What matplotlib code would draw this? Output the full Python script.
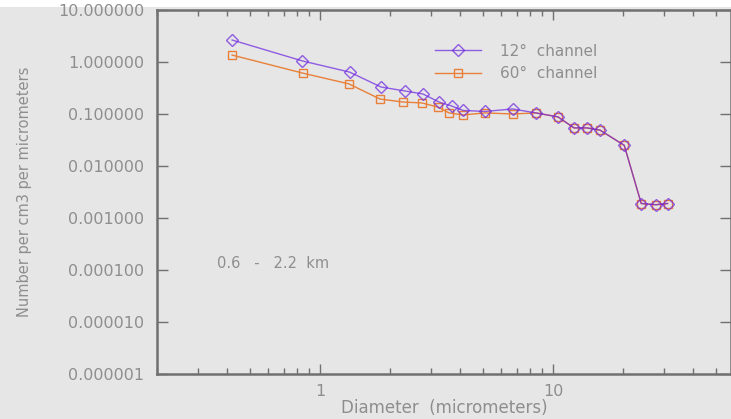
import matplotlib
matplotlib.use('Agg')
import matplotlib.pyplot as plt
from matplotlib.ticker import FormatStrFormatter, NullFormatter, LogLocator

# diameter (micrometers)
diam_12 = [0.42, 0.84, 1.34, 1.83, 2.32, 2.77, 3.24, 3.68, 4.11, 5.11, 6.71, 8.43,
           10.5, 12.3, 14.0, 15.9, 20.2, 23.9, 27.6, 31.0]
conc_12 = [2.65, 1.05, 0.64, 0.33, 0.277, 0.242, 0.170, 0.142, 0.117, 0.112, 0.125, 0.105,
           0.088, 0.054, 0.054, 0.049, 0.025, 0.0019, 0.0018, 0.0019]

diam_60 = [0.42, 0.845, 1.33, 1.81, 2.27, 2.74, 3.21, 3.58, 4.11, 5.11, 6.71, 8.43,
           10.5, 12.3, 14.0, 15.9, 20.2, 23.9, 27.6, 31.0]
conc_60 = [1.36, 0.61, 0.38, 0.194, 0.170, 0.163, 0.136, 0.105, 0.096, 0.105, 0.100, 0.105,
           0.088, 0.054, 0.054, 0.049, 0.025, 0.0019, 0.0018, 0.0019]

labels = ["12\u00b0  channel", "60\u00b0  channel"]
alt_text = "0.6   -   2.2  km"
x_ticks = [1, 10]
y_ticks = [1e-6, 1e-5, 1e-4, 1e-3, 1e-2, 1e-1, 1, 10]

bg = '#e6e6e6'
grey = '#8e8e8e'
axcol = '#707070'

fig = plt.figure(figsize=(7.31, 4.19), dpi=100, facecolor=bg)
# white strip at the top of the scan
fig.patches.append(plt.Rectangle((0, 1 - 7 / 419), 1, 7 / 419, transform=fig.transFigure,
                                 facecolor='white', edgecolor='none', zorder=-1))
ax = fig.add_axes([157 / 731, 1 - 374 / 419, 1 - 157 / 731, 364 / 419])
ax.set_facecolor(bg)

ax.plot(diam_60, conc_60, color='#e8803a', lw=1, marker='s', ms=6, mfc='none',
        mec='#e8803a', mew=1, label=labels[1])
ax.plot(diam_12, conc_12, color='#6a22e0', lw=1, marker='D', ms=6, mfc='none',
        mec='#6a22e0', mew=1, alpha=0.7, label=labels[0])

ax.set_xscale('log')
ax.set_yscale('log')
ax.set_xlim(0.2, 58)
ax.set_ylim(1e-6, 10)

ax.set_xticks(x_ticks)
ax.set_yticks(y_ticks)
ax.yaxis.set_minor_locator(LogLocator(base=10, subs=[], numticks=10))
ax.yaxis.set_major_formatter(FormatStrFormatter('%.6f'))
ax.xaxis.set_major_formatter(FormatStrFormatter('%g'))
ax.xaxis.set_minor_formatter(NullFormatter())

ax.tick_params(axis='both', which='both', direction='in', colors=axcol,
               labelcolor=grey, labelsize=11.5, top=True, right=True, width=1)
ax.tick_params(axis='y', which='major', length=8, pad=9)
ax.tick_params(axis='x', which='major', length=7, pad=7)
ax.tick_params(axis='x', which='minor', length=4, labelbottom=False)

for side in ['left', 'bottom', 'top', 'right']:
    ax.spines[side].set_color(axcol)
    ax.spines[side].set_linewidth(1.8)

ax.set_xlabel("Diameter  (micrometers)", color=grey, fontsize=12, labelpad=0)
ax.set_ylabel("Number per cm3 per micrometers", color=grey, fontsize=10.5)
ax.yaxis.set_label_coords(-0.218, 0.5)

ax.text(0.105, 0.29, alt_text, transform=ax.transAxes, color=grey, fontsize=10.5)

handles, lbls = ax.get_legend_handles_labels()
ax.legend(handles[::-1], lbls[::-1], loc='upper left', bbox_to_anchor=(0.46, 0.945),
          frameon=False, fontsize=11, labelcolor=grey, handlelength=3.0,
          handletextpad=1.3, labelspacing=0.5)

plt.savefig('out.png', dpi=100, facecolor=bg)
